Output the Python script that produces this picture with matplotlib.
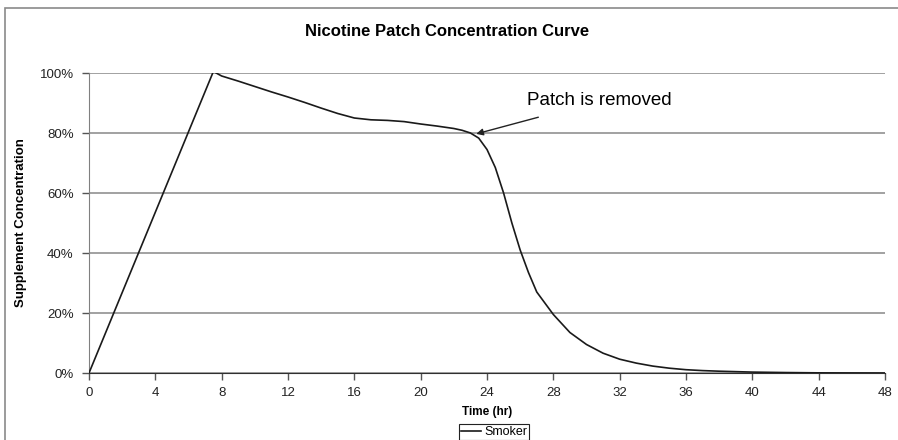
import matplotlib
matplotlib.use("Agg")
import matplotlib.pyplot as plt
from matplotlib.patches import Rectangle
from matplotlib.ticker import PercentFormatter

plt.rcParams['font.family'] = ['Liberation Sans', 'DejaVu Sans']

time_hr = [0, 7.5, 8, 9, 10, 11, 12, 13, 14, 15, 16, 17, 18, 19, 20, 21, 22, 22.5, 23,
           23.5, 24, 24.5, 25, 25.5, 26, 26.5, 27, 28, 29, 30, 31, 32, 33, 34, 35,
           36, 37, 38, 40, 42, 44, 46, 48]
smoker = [0, 100.5, 99, 97.3, 95.5, 93.7, 92, 90.2, 88.3, 86.5, 85, 84.4, 84.2, 83.8,
          83, 82.3, 81.5, 80.9, 80, 78.3, 74.5, 68.5, 60, 50, 41, 33.5, 27, 19.5, 13.5,
          9.5, 6.6, 4.6, 3.3, 2.3, 1.6, 1.1, 0.8, 0.6, 0.3, 0.15, 0.05, 0.02, 0]
x_ticks = [0, 4, 8, 12, 16, 20, 24, 28, 32, 36, 40, 44, 48]
y_ticks = [0, 20, 40, 60, 80, 100]

fig = plt.figure(figsize=(8.98, 4.40), dpi=100)
W, H = 898, 440
ax = fig.add_axes([89 / W, 1 - 373 / H, (885 - 89) / W, (373 - 73) / H])

# outer chart frame
fig.patches.append(Rectangle((5 / W, -0.1), 1.2, 1 - 8 / H + 0.1, transform=fig.transFigure,
                             fill=False, edgecolor='#8a8a8a', linewidth=1.2))

ax.plot(time_hr, smoker, color='#1a1a1a', linewidth=1.2, label='Smoker', zorder=3)

ax.set_xlim(0, 48)
ax.set_ylim(0, 100)
ax.set_xticks(x_ticks)
ax.set_yticks(y_ticks)
ax.yaxis.set_major_formatter(PercentFormatter(decimals=0))
ax.grid(axis='y', color='#9a9a9a', linewidth=1.3)
ax.set_axisbelow(True)
for s in ['top', 'right']:
    ax.spines[s].set_visible(False)
ax.spines['left'].set_color('#808080')
ax.spines['bottom'].set_color('#303030')
ax.tick_params(axis='both', direction='out', length=5, width=1, colors='#555555',
               labelcolor='#222222', labelsize=9.5)
ax.tick_params(axis='x', pad=5)
ax.tick_params(axis='y', pad=6)

ax.set_xlabel('Time (hr)', fontsize=8.5, fontweight='bold', labelpad=5)
ax.set_ylabel('Supplement Concentration', fontsize=9.5, fontweight='bold', labelpad=9)
fig.text(447 / W, 1 - 32 / H, 'Nicotine Patch Concentration Curve', ha='center', va='center',
         fontsize=12, fontweight='bold')

ax.annotate('Patch is removed', xy=(23.35, 79.7), xytext=(26.4, 90.7),
            fontsize=13.5, va='center', ha='left',
            arrowprops=dict(arrowstyle='-|>', color='#222222', lw=1, shrinkA=14, shrinkB=0,
                            mutation_scale=10))

leg = ax.legend(loc='upper center', bbox_to_anchor=(494 / W, 1 - 424 / H),
                bbox_transform=fig.transFigure, fancybox=False, edgecolor='#222222',
                framealpha=1, fontsize=9, handlelength=1.6, handletextpad=0.3,
                borderpad=0.15, borderaxespad=0)
leg.get_frame().set_linewidth(0.8)

fig.savefig('out.png', dpi=100)
